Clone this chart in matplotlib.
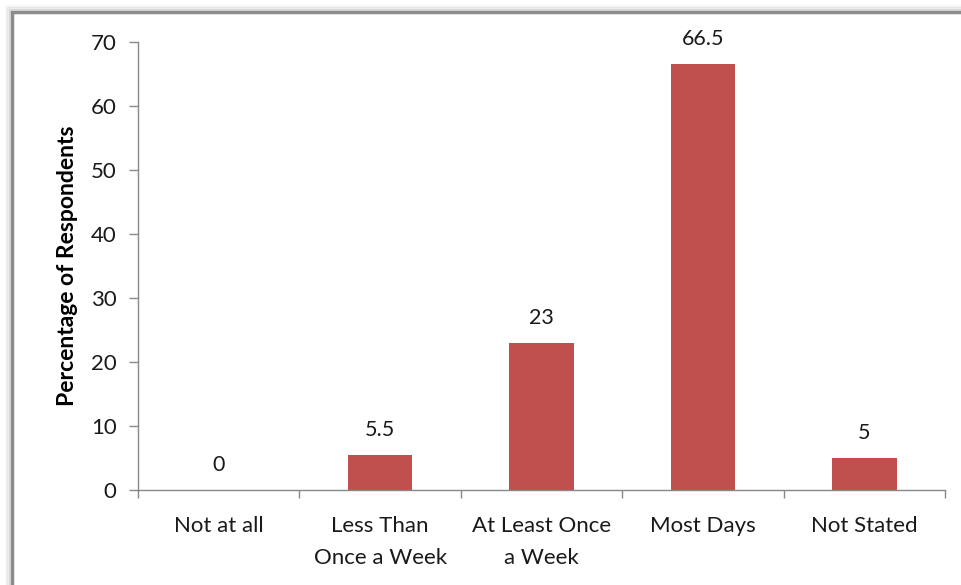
import matplotlib.pyplot as plt
import numpy as np
from matplotlib.patches import Rectangle

categories = ['Not at all', 'Less Than\nOnce a Week', 'At Least Once\na Week', 'Most Days', 'Not Stated']
values = [0, 5.5, 23, 66.5, 5]
value_labels = ['0', '5.5', '23', '66.5', '5']

plt.rcParams['font.family'] = ['Lato', 'DejaVu Sans']

fig = plt.figure(figsize=(9.62, 5.85), dpi=100)

# outer frame with soft shadow on the left/top
for i, a in enumerate([0.10, 0.07, 0.04]):
    off = (i + 1) * 2 / 962
    fig.patches.append(Rectangle((12 / 962 - off, -0.1), 1.2, (573 / 585) + 0.1 + off * 962 / 585,
                                 transform=fig.transFigure, facecolor='none',
                                 edgecolor='black', alpha=a, lw=2, zorder=-2))
fig.patches.append(Rectangle((12 / 962, -0.1), 1.2, 573 / 585 + 0.1,
                             transform=fig.transFigure, facecolor='white',
                             edgecolor='#8c8c8c', lw=2.5, zorder=-1))

ax = fig.add_axes([138 / 962, 1 - 490 / 585, 807 / 962, 448 / 585])
ax.set_facecolor('none')
ax.set_zorder(1)

x = np.arange(len(categories))
ax.bar(x, values, width=0.4, color='#c0504d', zorder=2)

for xi, v, lab in zip(x, values, value_labels):
    ax.annotate(lab, (xi, v), xytext=(0, 11), textcoords='offset points',
                ha='center', va='bottom', fontsize=15.5, color='#1a1a1a')

ax.set_xlim(-0.5, len(categories) - 0.5)
ax.set_ylim(0, 70)
ax.set_yticks(np.arange(0, 71, 10))

# category boundaries as x ticks
ax.set_xticks(np.arange(-0.5, len(categories), 1.0))
ax.set_xticklabels([])
ax.set_xticks(x, minor=True)
ax.set_xticklabels(categories, minor=True, fontsize=16, color='#1a1a1a', linespacing=1.8)
ax.tick_params(axis='x', which='minor', length=0, pad=18.5)
ax.tick_params(axis='x', which='major', length=6, color='#888888', width=1)
ax.tick_params(axis='y', length=6.5, color='#888888', width=1, labelsize=16,
               labelcolor='#1a1a1a', pad=9)

for side in ['top', 'right']:
    ax.spines[side].set_visible(False)
for side in ['left', 'bottom']:
    ax.spines[side].set_color('#888888')
    ax.spines[side].set_linewidth(1)

ax.set_ylabel('Percentage of Respondents', fontsize=16.5, fontweight='bold', labelpad=9)

fig.savefig('out.png', dpi=100)
